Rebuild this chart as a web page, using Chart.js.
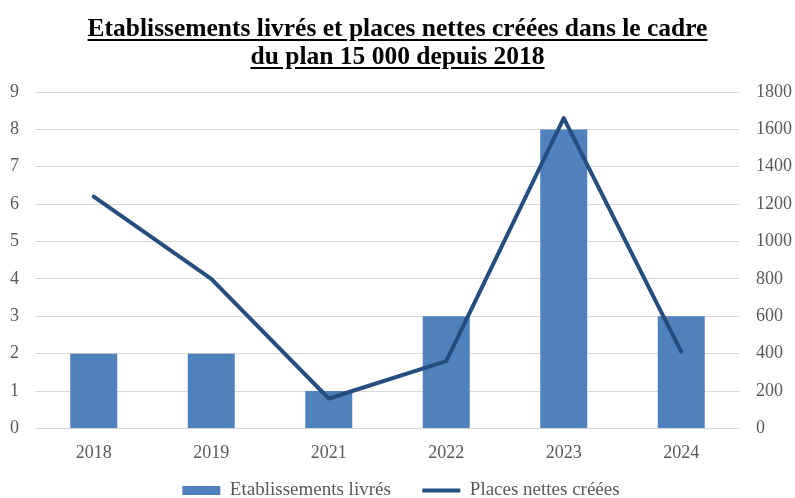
<!DOCTYPE html>
<html>
<head>
<meta charset="utf-8">
<script src="https://cdn.jsdelivr.net/npm/chart.js@4.4.1/dist/chart.umd.min.js"></script>
<style>
  html, body { margin: 0; padding: 0; background: #fff; }
  #wrap { position: relative; width: 795px; height: 498px; }
  #title {
    position: absolute; left: 0; top: 14px; width: 795px;
    text-align: center; font-family: "Liberation Serif", serif;
    font-weight: bold; font-size: 25.5px; line-height: 28px;
    text-decoration: underline; text-underline-offset: 3px; color: #000;
  }
</style>
</head>
<body>
<div id="wrap">
  <div id="title">Etablissements livrés et places nettes créées dans le cadre<br>du plan 15 000 depuis 2018</div>
  <canvas id="chart" width="795" height="498"></canvas>
</div>
<script>
// values
const years = ['2018', '2019', '2021', '2022', '2023', '2024'];
const etablissements = [2, 2, 1, 3, 8, 3];
const places = [1240, 800, 160, 360, 1660, 410];

const serif = '"Liberation Serif", serif';
const tickColor = '#595959';

const ctx = document.getElementById('chart').getContext('2d');
new Chart(ctx, {
    type: 'bar',
    data: {
        labels: years,
        datasets: [
            {
                label: 'Etablissements livrés',
                data: etablissements,
                backgroundColor: '#4f81bd',
                yAxisID: 'y',
                order: 2,
                barPercentage: 0.4,
                categoryPercentage: 1,
                pointStyle: 'rect'
            },
            {
                type: 'line',
                label: 'Places nettes créées',
                data: places,
                borderColor: '#254e80',
                backgroundColor: '#254e80',
                borderWidth: 4,
                pointRadius: 0,
                pointStyle: 'line',
                borderCapStyle: 'round',
                borderJoinStyle: 'round',
                tension: 0,
                yAxisID: 'y1',
                order: 1
            }
        ]
    },
    options: {
        responsive: false,
        animation: false,
        // negative bottom padding pushes the legend down to where it sits in the original
        layout: { padding: { top: 92, left: -6, right: -13, bottom: -12 } },
        plugins: {
            tooltip: { enabled: false },
            legend: {
                position: 'bottom',
                labels: {
                    usePointStyle: true,
                    pointStyleWidth: 38,
                    boxHeight: 9,
                    padding: 3,
                    color: tickColor,
                    font: { family: serif, size: 19 },
                    sort: (a, b) => a.datasetIndex - b.datasetIndex,
                    // small legend padding keeps the plot tall, so widen the gap after the first item
                    generateLabels(chart) {
                        const items = Chart.defaults.plugins.legend.labels.generateLabels(chart);
                        items.forEach(item => {
                            if (item.datasetIndex === 0) item.text += '\u2003\u2002';
                        });
                        return items;
                    }
                }
            }
        },
        scales: {
            x: {
                grid: { display: false, drawTicks: false },
                border: { display: false },
                ticks: { color: tickColor, font: { family: serif, size: 18 }, padding: 14 }
            },
            y: {
                position: 'left',
                min: 0,
                max: 9,
                grid: { color: '#d9d9d9', lineWidth: 1, drawTicks: false },
                border: { display: false },
                ticks: { stepSize: 1, color: tickColor, font: { family: serif, size: 18 }, padding: 16 }
            },
            y1: {
                position: 'right',
                min: 0,
                max: 1800,
                grid: { display: false, drawTicks: false },
                border: { display: false },
                ticks: {
                    stepSize: 200,
                    color: tickColor,
                    font: { family: serif, size: 18 },
                    padding: 16,
                    callback: value => String(value)
                }
            }
        }
    }
});
</script>
</body>
</html>
